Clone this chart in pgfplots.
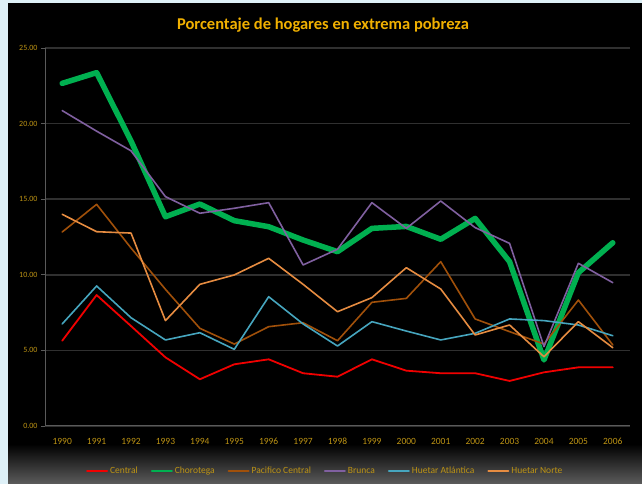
\documentclass[border=0pt]{standalone}
\usepackage{pgfplots}
\pgfplotsset{compat=1.18}
\usepackage{fontspec}
\setmainfont{Carlito}

\definecolor{frameblue}{RGB}{222,240,247}
\definecolor{titlegold}{RGB}{240,176,0}
\definecolor{tickgold}{RGB}{190,148,20}
\definecolor{gridgray}{RGB}{48,48,48}
\definecolor{axisgray}{RGB}{90,90,90}
\definecolor{cCentral}{RGB}{240,0,0}
\definecolor{cChorotega}{RGB}{0,176,80}
\definecolor{cPacifico}{RGB}{160,80,10}
\definecolor{cBrunca}{RGB}{128,96,160}
\definecolor{cAtlantica}{RGB}{70,165,190}
\definecolor{cNorte}{RGB}{230,140,65}

\begin{document}
\begin{tikzpicture}
\path[use as bounding box] (0pt,0pt) rectangle (642pt,484pt);
\fill[frameblue] (0pt,0pt) rectangle (642pt,484pt);
\fill[black] (8pt,0pt) rectangle (642pt,481pt);
\shade[top color=black, bottom color=black!64!white] (8pt,0pt) rectangle (642pt,40pt);
\node[text=titlegold, font=\fontsize{16.5}{19}\selectfont\bfseries] at (323pt,459pt) {Porcentaje de hogares en extrema pobreza};

\begin{axis}[
    at={(45pt,58pt)}, anchor=south west,
    scale only axis,
    width=585pt, height=378pt,
    xmin=1989.5, xmax=2006.5,
    ymin=0, ymax=25,
    xtick={1990,1991,1992,1993,1994,1995,1996,1997,1998,1999,2000,2001,2002,2003,2004,2005,2006},
    xticklabels={1990,1991,1992,1993,1994,1995,1996,1997,1998,1999,2000,2001,2002,2003,2004,2005,2006},
    ytick={0,5,10,15,20,25},
    /pgf/number format/assume math mode=true,
    xticklabel style={text=tickgold, font=\fontsize{9.5}{11}\selectfont, text height=7pt, text depth=0pt, yshift=-4pt},
    yticklabel style={/pgf/number format/fixed, /pgf/number format/fixed zerofill, /pgf/number format/precision=2, text=tickgold, font=\fontsize{8}{10}\selectfont},
    axis x line*=bottom, axis y line*=left,
    axis line style={axisgray, line width=1pt, -},
    major x tick style={draw=none},
    y tick style={axisgray, line width=0.8pt},
    tick align=outside,
    major tick length=4pt,
    extra x ticks={1989.5,1990.5,1991.5,1992.5,1993.5,1994.5,1995.5,1996.5,1997.5,1998.5,1999.5,2000.5,2001.5,2002.5,2003.5,2004.5,2005.5,2006.5},
    extra x tick labels={},
    extra x tick style={grid=none, major tick length=5pt, tick style={axisgray, line width=0.8pt}},
    ymajorgrids,
    grid style={gridgray, line width=1.6pt},
    legend columns=6,
    legend style={at={(0.479,-0.119)}, anchor=center, draw=none, fill=none,
        text=tickgold, font=\fontsize{9.5}{11}\selectfont,
        /tikz/every even column/.append style={column sep=11pt}},
    legend image code/.code={\draw[#1, line width=2pt] (0pt,0pt) -- (20pt,0pt);},
    every axis plot/.append style={line join=round, line cap=round},
]
\addplot[cCentral, line width=1.8pt] coordinates {
 (1990,5.64) (1991,8.66) (1992,6.61) (1993,4.54) (1994,3.09) (1995,4.08) (1996,4.41) (1997,3.49) (1998,3.26)
 (1999,4.41) (2000,3.66) (2001,3.49) (2002,3.49) (2003,2.98) (2004,3.55) (2005,3.88) (2006,3.88)};
\addlegendentry{Central}
\addplot[cChorotega, line width=5.5pt] coordinates {
 (1990,22.66) (1991,23.37) (1992,18.85) (1993,13.84) (1994,14.68) (1995,13.58) (1996,13.18) (1997,12.30) (1998,11.53)
 (1999,13.07) (2000,13.20) (2001,12.35) (2002,13.73) (2003,10.87) (2004,4.37) (2005,10.14) (2006,12.12)};
\addlegendentry{Chorotega}
\addplot[cPacifico, line width=1.6pt] coordinates {
 (1990,12.83) (1991,14.66) (1992,11.77) (1993,9.04) (1994,6.46) (1995,5.42) (1996,6.57) (1997,6.83) (1998,5.64)
 (1999,8.18) (2000,8.44) (2001,10.87) (2002,7.08) (2003,6.24) (2004,5.42) (2005,8.33) (2006,5.36)};
\addlegendentry{Pacifico Central}
\addplot[cBrunca, line width=1.6pt] coordinates {
 (1990,20.86) (1991,19.50) (1992,18.20) (1993,15.17) (1994,14.07) (1995,14.40) (1996,14.77) (1997,10.65) (1998,11.69)
 (1999,14.77) (2000,13.07) (2001,14.88) (2002,13.12) (2003,12.08) (2004,5.25) (2005,10.76) (2006,9.48)};
\addlegendentry{Brunca}
\addplot[cAtlantica, line width=1.6pt] coordinates {
 (1990,6.75) (1991,9.26) (1992,7.16) (1993,5.69) (1994,6.17) (1995,5.07) (1996,8.55) (1997,6.75) (1998,5.29)
 (1999,6.90) (2000,6.28) (2001,5.69) (2002,6.13) (2003,7.08) (2004,6.97) (2005,6.68) (2006,5.97)};
\addlegendentry{Huetar Atlántica}
\addplot[cNorte, line width=1.6pt] coordinates {
 (1990,14.00) (1991,12.85) (1992,12.76) (1993,6.97) (1994,9.37) (1995,9.99) (1996,11.09) (1997,9.37) (1998,7.56)
 (1999,8.49) (2000,10.47) (2001,9.06) (2002,6.02) (2003,6.68) (2004,4.58) (2005,6.90) (2006,5.18)};
\addlegendentry{Huetar Norte}
\end{axis}
\end{tikzpicture}
\end{document}
